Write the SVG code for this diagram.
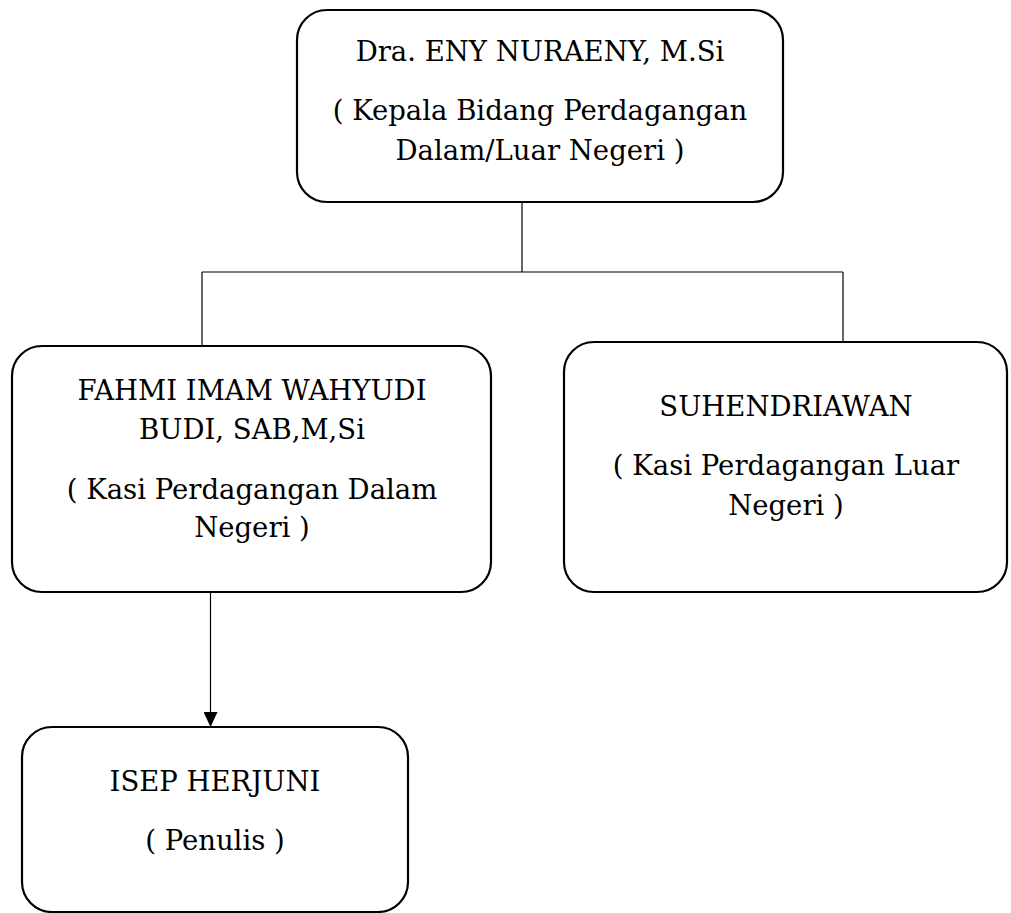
<svg xmlns="http://www.w3.org/2000/svg" width="1011" height="913" viewBox="0 0 1011 913">
<style>
.box{fill:#fff;stroke:#000;stroke-width:2.2}
.t{font-family:"DejaVu Serif","Liberation Serif",serif;font-size:27.5px;fill:#000;text-anchor:middle}
.c{stroke:#000;stroke-width:1.2;fill:none}
</style>
<defs>
<marker id="ah" markerUnits="userSpaceOnUse" markerWidth="16" markerHeight="14" refX="15" refY="7" orient="auto">
<path d="M0,0 L15,7 L0,14 Z" fill="#000"/>
</marker>
</defs>
<rect width="1011" height="913" fill="#fff"/>
<g id="connectors">
<line class="c" x1="522" y1="202" x2="522" y2="272"/>
<line class="c" x1="202" y1="272" x2="843" y2="272"/>
<line class="c" x1="202" y1="272" x2="202" y2="346"/>
<line class="c" x1="843" y1="272" x2="843" y2="342"/>
<line class="c" x1="210.5" y1="592" x2="210.5" y2="727" marker-end="url(#ah)"/>
</g>
<g id="node-kepala">
<rect class="box" x="297" y="10" width="486" height="192" rx="30" ry="30"/>
<text class="t" x="540" y="61">Dra. ENY NURAENY, M.Si</text>
<text class="t" x="540" y="120">( Kepala Bidang Perdagangan</text>
<text class="t" x="540" y="160">Dalam/Luar Negeri )</text>
</g>
<g id="node-dalam">
<rect class="box" x="12" y="346" width="479" height="246" rx="30" ry="30"/>
<text class="t" x="252" y="400">FAHMI IMAM WAHYUDI</text>
<text class="t" x="252" y="439">BUDI, SAB,M,Si</text>
<text class="t" x="252" y="499">( Kasi Perdagangan Dalam</text>
<text class="t" x="252" y="537">Negeri )</text>
</g>
<g id="node-luar">
<rect class="box" x="564" y="342" width="443" height="250" rx="30" ry="30"/>
<text class="t" x="786" y="416">SUHENDRIAWAN</text>
<text class="t" x="786" y="475">( Kasi Perdagangan Luar</text>
<text class="t" x="786" y="515">Negeri )</text>
</g>
<g id="node-penulis">
<rect class="box" x="22" y="727" width="386" height="185" rx="30" ry="30"/>
<text class="t" x="215" y="791">ISEP HERJUNI</text>
<text class="t" x="215" y="850">( Penulis )</text>
</g>
</svg>
